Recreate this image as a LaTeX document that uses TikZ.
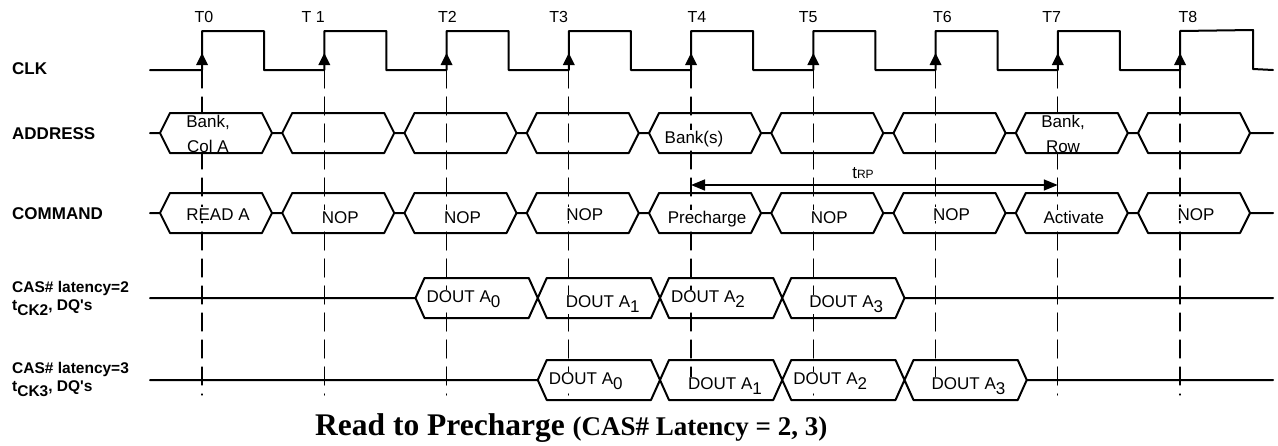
\documentclass[tikz,border=0pt]{standalone}
\usepackage{fontspec}
\setmainfont{Liberation Serif}
\newfontfamily\arial{Liberation Sans}
\usetikzlibrary{arrows.meta}
\newcommand{\lo}[1]{\raisebox{-5pt}{#1}}
\begin{document}
\begin{tikzpicture}[x=1pt, y=-1pt, line join=round, line cap=round, >={Triangle[length=14pt,width=11pt]}, font=\arial\fontsize{17}{20}\selectfont]
    \def\xs{202} \def\per{122.25} \def\xl{150} \def\xr{1273}
    \def\ya{133} \def\yc{213} \def\yq{298} \def\yr{380}
    \tikzset{wave/.style={line width=2pt},
             grid/.style={line width=1.2pt, dash pattern=on 18pt off 9pt},
             sig/.style={anchor=west, inner sep=0pt, font=\arial\bfseries\fontsize{17}{20}\selectfont},
             cas/.style={anchor=base west, inner sep=0pt, font=\arial\bfseries\fontsize{15.5}{18}\selectfont},
             txt/.style={inner sep=1pt, fill=white}}
    \useasboundingbox (0,0) rectangle (1278,445);
    \foreach \i in {0,...,8}
        \draw[grid] ({\xs+\i*\per},70) -- ++(0,325);
    \node[sig] (clk) at (12,69) {CLK};
    \node[sig] (addr) at (12,134) {ADDRESS};
    \node[sig] (cmd) at (12,214) {COMMAND};
    \node[cas] (cl2) at (12,292) {CAS\# latency=2};
    \node[cas] (ck2) at (12,310) {t\lo{CK2}, DQ's};
    \node[cas] (cl3) at (12,373) {CAS\# latency=3};
    \node[cas] (ck3) at (12,391) {t\lo{CK3}, DQ's};
    \node[txt, align=center, font=\arial\fontsize{17}{25}\selectfont] (a0) at (208,134) {Bank,\\Col A};
    \node[txt, anchor=base] (a4) at (694,143) {Bank(s)};
    \node[txt, align=center, font=\arial\fontsize{17}{25}\selectfont] (a7) at (1063,134) {Bank,\\Row};
    \foreach \i/\lab/\yb in {0/READ A/220, 1/NOP/223, 2/NOP/223, 3/NOP/220, 4/Precharge/223, 5/NOP/223, 6/NOP/220, 7/Activate/223, 8/NOP/220}
        \node[txt, anchor=base] (c\i) at ({\xs+\i*\per+16},\yb) {\lab};
    \foreach \y/\s in {\yq/2, \yr/3}
        \foreach \k/\dx/\dy in {0/-13/4.5, 1/4/9.5, 2/-13/4.5, 3/3/9.5}
            \node[txt, anchor=base] (q\s\k) at ({\xs+(\s+\k)*\per+30+\dx},{\y+\dy}) {DOUT A\lo{\k}};
    \draw[wave] (\xl,70) \foreach \i in {0,...,7} {-- ({\xs+\i*\per},70) -- ++(0,-39) -- ++(62,0) -- ++(0,39)}
        -- (1180,70) -- (1180,31) -- (1253,30) -- (1253,69) -- (\xr,70);
    \foreach \i/\lab/\dx in {0/T0/2, 1/T 1/-11, 2/T2/1, 3/T3/-10, 4/T4/6, 5/T5/-5, 6/T6/7, 7/T7/-6, 8/T8/8} {
        \fill ({\xs+\i*\per},53) -- ++(-6,12) -- ++(12,0) -- cycle;
        \node[anchor=base, font=\arial\fontsize{16}{18}\selectfont] (t\i) at ({\xs+\i*\per+\dx},22) {\lab};
    }
    \foreach \y in {\ya,\yc}
        \draw[wave] (\xl,\y) \foreach \i in {0,...,8} {-- ({\xs+\i*\per-42},\y) -- ++(10,-20) -- ++(92,0) -- ++(10,20) -- ++(-10,20) -- ++(-92,0) -- ++(-10,-20) ++(112,0)} -- (\xr,\y);
    \foreach \y/\s in {\yq/2, \yr/3}
        \draw[wave] (\xl,\y) -- ({\xs+\s*\per-31},\y) \foreach \k in {0,...,3} {-- ++(9,-20) -- ++(104.25,0) -- ++(9,20) -- ++(-9,20) -- ++(-104.25,0) -- ++(-9,-20) ++(122.25,0)} -- (\xr,\y);
    \coordinate (p4) at ({\xs+4*\per},185);
    \coordinate (p7) at ({\xs+7*\per},185);
    \draw[<->, line width=1.6pt] (p4) -- (p7);
    \node[anchor=base] (trp) at (863,178) {t{\fontsize{12}{12}\selectfont RP}};
    \node[anchor=base west, inner sep=0pt, font=\rmfamily\bfseries\fontsize{31.5}{34}\selectfont] (cap) at (315,435) {Read to Precharge {\fontsize{27}{28}\selectfont(CAS\# Latency = 2, 3)}};
\end{tikzpicture}
\end{document}
